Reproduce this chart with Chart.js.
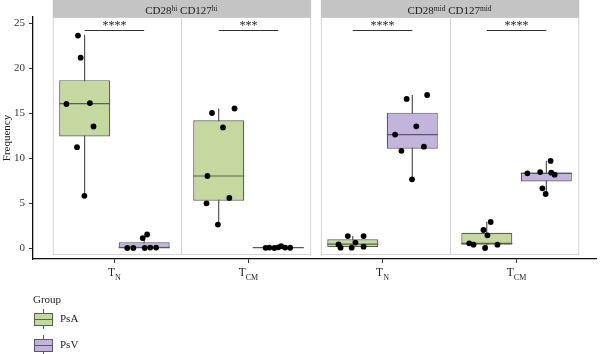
<!DOCTYPE html>
<html>
<head>
<meta charset="utf-8">
<script src="https://cdn.jsdelivr.net/npm/chart.js@4.4.1/dist/chart.umd.min.js"></script>
<style>
  html, body { margin: 0; padding: 0; background: #fff; }
  #wrap { width: 600px; height: 354px; }
</style>
</head>
<body>
<div id="wrap"><canvas id="chart"></canvas></div>
<script>
// categories (x positions 1..4), subscript of the T label
const categories = [1, 2, 3, 4];
const catSubs = ['N', 'CM', 'N', 'CM'];
const yTicks = [0, 5, 10, 15, 20, 25];
const panelLabels = [['CD28', 'hi', ' CD127', 'hi'], ['CD28', 'mid', ' CD127', 'mid']];
const sigLabels = ['****', '***', '****', '****'];

// box stats
const psaQ1 = [12.4, 5.26, 0.1, 0.37];
const psaMed = [16.05, 8.0, 0.42, 0.52];
const psaQ3 = [18.65, 14.2, 0.97, 1.7];
const psaLo = [5.9, 2.6, 0.04, 0.0];
const psaHi = [23.7, 15.5, 1.33, 2.9];

const psvQ1 = [0.02, 0.03, 11.03, 7.39];
const psvMed = [0.05, 0.05, 12.6, 8.3];
const psvQ3 = [0.63, 0.1, 15.04, 8.4];
const psvLo = [0.0, 0.0, 7.63, 6.0];
const psvHi = [1.1, 0.2, 17.0, 9.67];

// jittered points
const psaX = [0.728, 0.748, 0.642, 0.817, 0.844, 0.721, 0.776,
              1.728, 1.896, 1.810, 1.694, 1.687, 1.857, 1.772,
              2.741, 2.859, 2.672, 2.687, 2.770, 2.798, 2.859,
              3.807, 3.753, 3.783, 3.647, 3.679, 3.765, 3.857];
const psaY = [23.6, 21.15, 16.0, 16.1, 13.5, 11.2, 5.8,
              15.0, 15.5, 13.4, 8.0, 4.96, 5.56, 2.6,
              1.33, 1.33, 0.4, 0.04, 0.04, 0.6, 0.15,
              2.89, 2.0, 1.41, 0.52, 0.37, 0.0, 0.37];
const psvX = [1.096, 1.141, 1.211, 1.244, 1.226, 1.267, 1.311,
              2.128, 2.156, 2.193, 2.222, 2.244, 2.274, 2.311,
              3.180, 3.333, 3.252, 3.094, 3.141, 3.309, 3.220,
              4.254, 4.081, 4.176, 4.259, 4.284, 4.193, 4.217];
const psvY = [0.0, 0.0, 1.1, 1.5, 0.0, 0.05, 0.05,
              0.02, 0.05, 0.0, 0.08, 0.2, 0.05, 0.03,
              16.56, 17.0, 13.52, 12.6, 10.8, 11.26, 7.63,
              9.67, 8.3, 8.44, 8.37, 8.15, 6.63, 6.0];

const serif = '"Liberation Serif", "DejaVu Serif", serif';
const dodge = 0.222;
const panelRanges = [[0.54, 2.46], [2.54, 4.46]];
const panelBottom = -0.67;
const sigY = 24.26;
const green = '#c5d89f', greenLine = '#56624a';
const purple = '#c3b4db', purpleLine = '#5a5470';

Chart.defaults.font.family = serif;

const pts = (xs, ys) => xs.map((x, i) => ({ x: x, y: ys[i] }));
const boxes = (off, q1, q3) => categories.map((c, i) => ({ x: c + off, y: [q1[i], q3[i]] }));

const groups = [
  { lo: psaLo, hi: psaHi, med: psaMed, line: greenLine },
  { lo: psvLo, hi: psvHi, med: psvMed, line: purpleLine }
];

function drawParts(ctx, parts, cx, baseline) {
  let w = 0;
  parts.forEach(p => { ctx.font = p.size + 'px ' + serif; p.w = ctx.measureText(p.t).width; w += p.w; });
  let x = cx - w / 2;
  ctx.textAlign = 'left';
  ctx.textBaseline = 'alphabetic';
  parts.forEach(p => {
    ctx.font = p.size + 'px ' + serif;
    ctx.fillText(p.t, x, baseline + p.dy);
    x += p.w;
  });
}

const boxExtras = {
  id: 'boxExtras',
  beforeDatasetsDraw(chart) {
    const { ctx, scales: { x, y }, chartArea } = chart;
    ctx.save();
    // panels
    ctx.strokeStyle = '#d4d4d4';
    ctx.lineWidth = 1;
    panelRanges.forEach(r => {
      const l = x.getPixelForValue(r[0]), rr = x.getPixelForValue(r[1]);
      const b = y.getPixelForValue(panelBottom);
      ctx.strokeRect(l + 0.5, chartArea.top + 0.5, rr - l, b - chartArea.top);
      const mid = x.getPixelForValue((r[0] + r[1]) / 2);
      ctx.beginPath();
      ctx.moveTo(Math.round(mid) + 0.5, chartArea.top);
      ctx.lineTo(Math.round(mid) + 0.5, b);
      ctx.stroke();
    });
    // whiskers
    ctx.strokeStyle = '#333';
    groups.forEach((g, gi) => {
      const meta = chart.getDatasetMeta(2 + gi);
      meta.data.forEach((el, i) => {
        ctx.beginPath();
        ctx.moveTo(el.x, y.getPixelForValue(g.lo[i]));
        ctx.lineTo(el.x, y.getPixelForValue(g.hi[i]));
        ctx.stroke();
      });
    });
    ctx.restore();
  },
  afterDatasetDraw(chart, args) {
    if (args.index < 2) return;
    const g = groups[args.index - 2];
    const { ctx, scales: { y } } = chart;
    ctx.save();
    ctx.strokeStyle = g.line;
    ctx.lineWidth = 1.2;
    args.meta.data.forEach((el, i) => {
      const py = y.getPixelForValue(g.med[i]);
      ctx.beginPath();
      ctx.moveTo(el.x - el.width / 2, py);
      ctx.lineTo(el.x + el.width / 2, py);
      ctx.stroke();
    });
    ctx.restore();
  },
  afterDraw(chart) {
    const { ctx, scales: { x, y } } = chart;
    ctx.save();
    ctx.fillStyle = '#222';
    // strips
    panelRanges.forEach((r, pi) => {
      const l = x.getPixelForValue(r[0]), rr = x.getPixelForValue(r[1]);
      ctx.fillStyle = '#c4c4c4';
      ctx.fillRect(l, 0, rr - l + 1, 17.5);
      ctx.fillStyle = '#222';
      const lab = panelLabels[pi];
      drawParts(ctx, [
        { t: lab[0], size: 11, dy: 0 }, { t: lab[1], size: 7.5, dy: -3.5 },
        { t: lab[2], size: 11, dy: 0 }, { t: lab[3], size: 7.5, dy: -3.5 }
      ], (l + rr) / 2, 14);
    });
    // x tick labels with subscripts
    categories.forEach((c, i) => {
      drawParts(ctx, [{ t: 'T', size: 11.5, dy: 0 }, { t: catSubs[i], size: 8, dy: 3.5 }],
        x.getPixelForValue(c), 276);
    });
    // significance bars
    ctx.strokeStyle = '#333';
    ctx.lineWidth = 1;
    categories.forEach((c, i) => {
      const py = Math.round(y.getPixelForValue(sigY)) + 0.5;
      ctx.beginPath();
      ctx.moveTo(x.getPixelForValue(c - dodge), py);
      ctx.lineTo(x.getPixelForValue(c + dodge), py);
      ctx.stroke();
      ctx.font = '12px ' + serif;
      ctx.textAlign = 'center';
      ctx.textBaseline = 'alphabetic';
      ctx.fillText(sigLabels[i], x.getPixelForValue(c), py - 1.5);
    });
    // legend
    ctx.textAlign = 'left';
    ctx.font = '11px ' + serif;
    ctx.fillText('Group', 33, 303);
    [['PsA', green, greenLine], ['PsV', purple, purpleLine]].forEach((it, k) => {
      const top = 313 + k * 26;
      ctx.strokeStyle = '#555';
      ctx.beginPath();
      ctx.moveTo(43.5, top - 4); ctx.lineTo(43.5, top);
      ctx.moveTo(43.5, top + 12); ctx.lineTo(43.5, top + 16);
      ctx.stroke();
      ctx.fillStyle = it[1];
      ctx.fillRect(34, top, 18, 12);
      ctx.strokeStyle = it[2];
      ctx.strokeRect(34.5, top + 0.5, 18, 12);
      ctx.beginPath();
      ctx.moveTo(34, top + 6.5); ctx.lineTo(53, top + 6.5);
      ctx.stroke();
      ctx.fillStyle = '#222';
      ctx.font = '11px ' + serif;
      ctx.textBaseline = 'middle';
      ctx.fillText(it[0], 60, top + 6.5);
    });
    ctx.restore();
  }
};

new Chart(document.getElementById('chart'), {
  type: 'bar',
  data: {
    datasets: [
      { type: 'scatter', label: 'PsA', data: pts(psaX, psaY), order: 0,
        backgroundColor: '#000', borderColor: '#000', pointRadius: 2.9, pointBorderWidth: 0 },
      { type: 'scatter', label: 'PsV', data: pts(psvX, psvY), order: 0,
        backgroundColor: '#000', borderColor: '#000', pointRadius: 2.9, pointBorderWidth: 0 },
      { label: 'PsA', data: boxes(-dodge, psaQ1, psaQ3), order: 1, grouped: false,
        backgroundColor: green, borderColor: greenLine, borderWidth: 1.2,
        borderSkipped: false, barThickness: 51, inflateAmount: 0 },
      { label: 'PsV', data: boxes(dodge, psvQ1, psvQ3), order: 1, grouped: false,
        backgroundColor: purple, borderColor: purpleLine, borderWidth: 1.2,
        borderSkipped: false, barThickness: 51, inflateAmount: 0 }
    ]
  },
  options: {
    responsive: true,
    maintainAspectRatio: false,
    animation: false,
    layout: { padding: { top: 17, right: 0, left: 0, bottom: 0 } },
    plugins: { legend: { display: false }, tooltip: { enabled: false } },
    scales: {
      x: {
        type: 'linear',
        min: 0.3926, max: 4.5926,
        offset: false,
        afterBuildTicks: s => { s.ticks = categories.map(v => ({ value: v })); },
        afterFit: s => { s.height = 95; },
        ticks: { callback: () => '', font: { size: 11 } },
        grid: { drawOnChartArea: false, offset: false, tickLength: 4, color: '#333' },
        border: { display: true, color: '#111', width: 1.3 }
      },
      y: {
        min: -1.222, max: 25.667,
        afterBuildTicks: s => { s.ticks = yTicks.map(v => ({ value: v })); },
        afterFit: s => { s.width = 33; },
        ticks: { color: '#333', padding: 4, font: { size: 11 } },
        grid: { drawOnChartArea: false, tickLength: 4, color: '#333' },
        border: { display: true, color: '#111', width: 1.3 },
        title: { display: true, text: 'Frequency', color: '#222', font: { size: 11 }, padding: { top: 1, bottom: 0 } }
      }
    }
  },
  plugins: [boxExtras]
});
</script>
</body>
</html>
